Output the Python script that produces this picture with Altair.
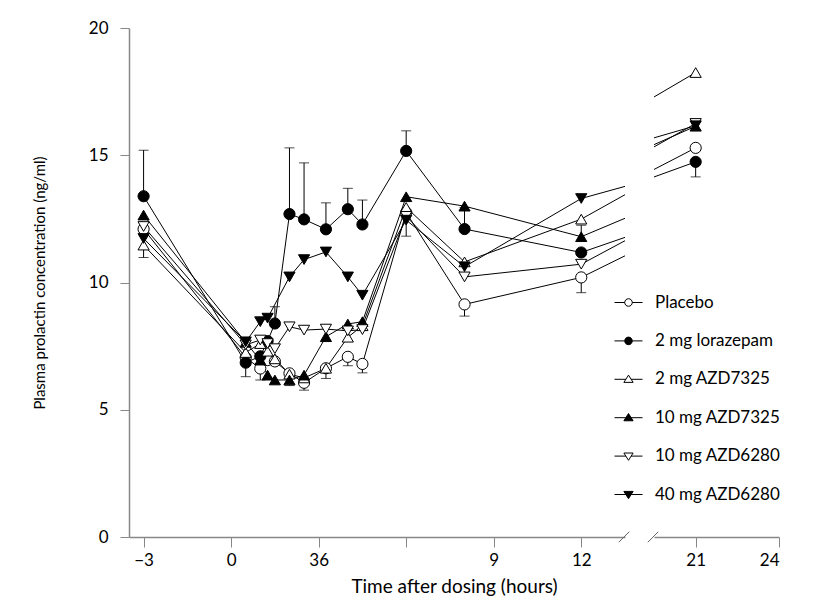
import altair as alt
import pandas as pd

times = [-3, 0.5, 1, 1.25, 1.5, 2, 2.5, 3.25, 4, 4.5, 6, 8, 12, 21]
series_names = ["Placebo", "2 mg lorazepam", "2 mg AZD7325", "10 mg AZD7325",
                "10 mg AZD6280", "40 mg AZD6280"]

placebo = [12.1, 7.05, 6.62, 6.95, 6.9, 6.43, 6.06, 6.63, 7.08, 6.8, 12.75, 9.14, 10.2, 15.29]
lorazepam_2 = [13.39, 6.85, 7.1, 7.7, 8.39, 12.69, 12.48, 12.09, 12.88, 12.28, 15.17, 12.1, 11.18, 14.74]
azd7325_2 = [11.47, 7.25, 7.6, 7.3, 7.0, 6.4, 6.25, 6.63, 7.85, 8.3, 12.95, 10.81, 12.49, 18.25]
azd7325_10 = [12.65, 7.65, 6.95, 6.36, 6.17, 6.17, 6.36, 7.87, 8.37, 8.46, 13.37, 13.0, 11.8, 16.14]
azd6280_10 = [12.2, 7.55, 7.74, 7.6, 7.4, 8.26, 8.13, 8.17, 8.1, 8.15, 12.6, 10.22, 10.72, 16.25]
azd6280_40 = [11.73, 7.67, 8.46, 8.6, None, 10.22, 10.9, 11.2, 10.22, 9.5, 12.45, 10.62, 13.3, 16.16]

# one-sided error bars (SEM)
err_series = ["2 mg lorazepam", "2 mg AZD7325", "2 mg lorazepam", "Placebo", "2 mg lorazepam",
              "2 mg lorazepam", "2 mg lorazepam", "2 mg lorazepam", "2 mg lorazepam", "2 mg lorazepam",
              "10 mg AZD7325", "Placebo", "Placebo", "Placebo", "Placebo",
              "2 mg lorazepam", "40 mg AZD6280", "2 mg lorazepam", "Placebo",
              "10 mg AZD7325", "Placebo", "10 mg AZD6280", "2 mg lorazepam"]
err_time = [-3, -3, 0.5, 1, 1.5,
            2, 2.5, 3.25, 4, 4.5,
            2, 2.5, 3.25, 4, 4.5,
            6, 6, 8, 8,
            12, 12, 21, 21]
err_value = [13.39, 11.47, 6.85, 6.62, 8.39,
             12.69, 12.48, 12.09, 12.88, 12.28,
             6.17, 6.06, 6.63, 7.08, 6.8,
             15.17, 12.45, 12.1, 9.14,
             11.8, 10.2, 16.25, 14.74]
err_end = [15.2, 10.98, 6.3, 6.17, 9.05,
           15.29, 14.7, 13.13, 13.7, 13.24,
           5.95, 5.77, 6.23, 6.73, 6.45,
           15.96, 11.82, 12.95, 8.68,
           12.25, 9.6, 16.35, 14.15]

all_series = [placebo, lorazepam_2, azd7325_2, azd7325_10, azd6280_10, azd6280_40]
rows = []
for name, vals in zip(series_names, all_series):
    for t, v in zip(times, vals):
        if v is not None:
            rows.append({"series": name, "time": t, "value": v})
df = pd.DataFrame(rows)
edf = pd.DataFrame({"series": err_series, "time": err_time, "value": err_value, "end": err_end})
legend_df = pd.DataFrame({"series": series_names})

shapes = ["circle", "circle", "triangle-up", "triangle-up", "triangle-down", "triangle-down"]
fills = ["white", "black", "white", "black", "white", "black"]
circ = "M-1,0H-0.27M0.27,0H1M0.27,0A0.27,0.27,0,1,1,-0.27,0A0.27,0.27,0,1,1,0.27,0Z"
tri_up = "M-1,0H-0.18M0.18,0H1M0,-0.3L0.33,0.22L-0.33,0.22Z"
tri_dn = "M-1,0H-0.18M0.18,0H1M0,0.3L0.33,-0.22L-0.33,-0.22Z"
legend_paths = [circ, circ, tri_up, tri_up, tri_dn, tri_dn]
slash = "M-1,1L1,-1"

FONT = "Lato"
AX = dict(domainColor="#888888", tickColor="#888888", domainWidth=1.5, tickWidth=1,
          labelFont=FONT, labelFontSize=17, labelColor="black", grid=False,
          titleFont=FONT, titleFontWeight="normal", titleColor="black")

H = 509
dummy = pd.DataFrame({"a": [0]})


def panel(domain, width, xaxis, yaxis, with_legend, slash_x):
    x = alt.X("time:Q", scale=alt.Scale(domain=domain, nice=False, zero=False), axis=xaxis)

    def y(field="value"):
        return alt.Y(f"{field}:Q", scale=alt.Scale(domain=[0, 20], nice=False), axis=yaxis,
                     title="Plasma prolactin concentration (ng/ml)")

    layers = []
    layers.append(alt.Chart(df).mark_line(color="black", strokeWidth=1, clip=True).encode(
        x=x, y=y(), detail="series:N", order="time:Q"))
    layers.append(alt.Chart(edf).mark_rule(color="black", strokeWidth=1, clip=True).encode(
        x=x, y=y(), y2="end:Q"))
    layers.append(alt.Chart(edf).mark_tick(orient="horizontal", color="black", size=10,
                                           thickness=1, clip=True).encode(x=x, y=y("end")))
    for name, shp, fl in zip(series_names, shapes, fills):
        layers.append(alt.Chart(df).transform_filter(alt.datum.series == name).mark_point(
            shape=shp, filled=True, fill=fl, stroke="black", strokeWidth=1, size=125,
            opacity=1, clip=True).encode(x=x, y=y()))
    if with_legend:
        leg = alt.Legend(title=None, orient="none", legendX=485, legendY=260,
                         symbolSize=784, symbolStrokeColor="black", symbolStrokeWidth=1,
                         symbolOpacity=1,
                         labelFont=FONT, labelFontSize=17, labelColor="black",
                         labelOffset=12, rowPadding=15.4)
        layers.append(alt.Chart(legend_df).mark_point(filled=True, stroke="black", strokeWidth=1,
                                                      opacity=1, clip=True, size=784).encode(
            x=alt.value(-2000), y=alt.value(-2000),
            shape=alt.Shape("series:N", scale=alt.Scale(domain=series_names, range=legend_paths),
                            legend=leg),
            fill=alt.Fill("series:N", scale=alt.Scale(domain=series_names, range=fills),
                          legend=leg),
            stroke=alt.Stroke("series:N", scale=alt.Scale(domain=series_names, range=["black"] * 6),
                              legend=leg)))
    # axis break mark
    layers.append(alt.Chart(dummy).mark_point(shape=slash, size=110, filled=False, stroke="#666666",
                                              strokeWidth=1, opacity=1).encode(
        x=alt.value(slash_x), y=alt.value(H)))
    return alt.layer(*layers).properties(width=width, height=H)


left_x = alt.Axis(values=[-3, 0, 3, 6, 9, 12],
                  labelExpr="datum.value == 3 ? '36' : (datum.value == 6 ? '' : datum.label)",
                  tickSize=10, labelPadding=5, title="Time after dosing (hours)",
                  titleFontSize=19, titleX=325, titleAlign="center", titlePadding=9, **AX)
right_x = alt.Axis(values=[21, 24], tickSize=10, labelPadding=5, title=None, **AX)
left_y = alt.Axis(values=[0, 5, 10, 15, 20], tickSize=9, labelPadding=12, titleFontSize=15,
                  titlePadding=41, **AX)

left = panel([-3.5, 13.5], 496, left_x, left_y, True, 495)
right = panel([19.5, 24], 125, right_x, None, False, -1)

chart = alt.hconcat(left, right, spacing=29, bounds="flush").properties(
    padding={"left": 24, "top": 11, "right": 5, "bottom": 5},
    background="white"
).configure_view(stroke=None)

chart.save("out.html", embed_options={"renderer": "svg", "actions": False})
